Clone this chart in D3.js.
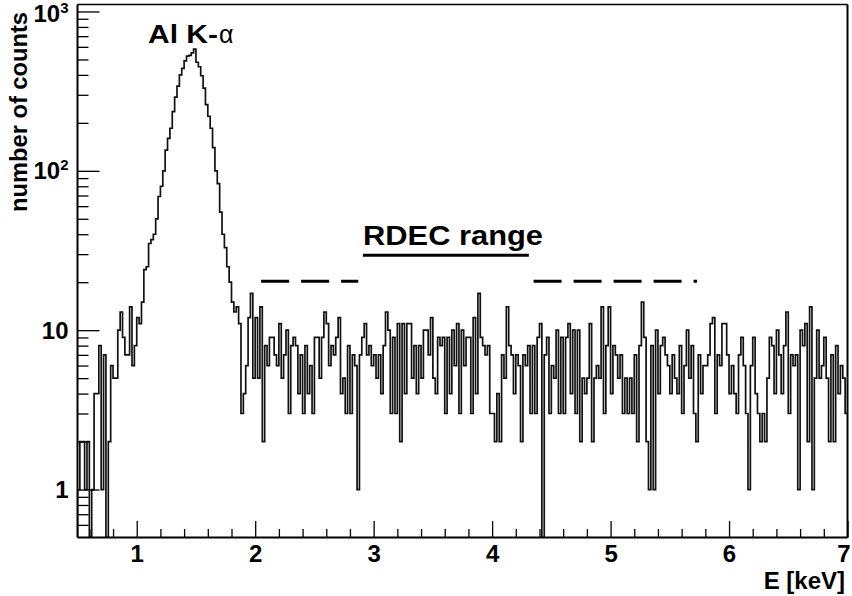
<!DOCTYPE html>
<html>
<head>
<meta charset="utf-8">
<script src="https://cdn.jsdelivr.net/npm/d3@7"></script>
<style>
  body { margin: 0; background: #fff; }
  svg { display: block; }
  text { font-family: 'Liberation Sans', Arial, Helvetica, sans-serif; font-weight: bold; fill: #000; }
</style>
</head>
<body>
<svg id="chart"></svg>
<script>
// spectrum: bins of 0.02 keV starting at 0.5 keV
const binStart = 0.5
const binWidth = 0.02
const counts = [
  1, 2, 2, 1, 2, 0, 1, 4, 4, 8, 1, 7, 0, 2, 6, 5, 5, 10, 13, 9, 7, 7, 14, 6, 8, 12, 11, 15,
  24, 25, 35, 37, 40, 50, 69, 80, 100, 135, 160, 185, 235, 290, 340, 400, 440, 490, 525, 530,
  550, 580, 480, 450, 395, 330, 260, 220, 185, 140, 100, 83, 55, 40, 33, 25,
  20, 15, 13, 14, 11, 3, 4, 6, 12, 17, 5, 12, 5, 14, 2, 8, 6, 9, 9, 7, 6, 11, 5, 7, 10, 3, 8, 9, 8, 4, 7, 3, 8, 4, 6, 3, 9,
  9, 5, 9, 13, 11, 6, 8, 7, 9, 12, 4, 5, 3, 8, 3, 7, 6, 1, 7, 9, 11, 7, 8, 6, 7, 5, 7, 4, 8, 13, 10, 3, 9, 3, 11, 2, 11, 4, 11,
  11, 5, 8, 4, 8, 5, 10, 10, 7, 12, 5, 4, 9, 8, 9, 3, 9, 4, 10, 6, 11, 3, 10, 6, 9, 9, 3, 12, 4, 17, 9, 8, 7, 8, 3, 3, 2, 4,
  2, 7, 5, 14, 8, 7, 4, 7, 6, 2, 7, 6, 8, 3, 8, 3, 9, 11, 0, 7, 9, 3, 6, 5, 10, 3, 9, 3, 9, 11, 4, 10, 3, 10, 2, 5, 4, 5,
  11, 2, 5, 6, 5, 14, 3, 8, 14, 4, 8, 7, 5, 7, 3, 5, 3, 5, 3, 7, 2, 8, 15, 9, 2, 1, 8, 1, 10, 4, 8, 9, 7, 6, 4, 7, 5, 4,
  8, 3, 6, 10, 5, 8, 3, 2, 7, 4, 6, 6, 7, 11, 12, 3, 7, 6, 11, 11, 7, 4, 6, 4, 3, 7, 9, 6, 3, 1,
  6, 9, 4, 3, 2, 3, 2, 5, 9, 8, 4, 10, 7, 4, 8, 13, 3, 7, 6, 7, 1, 10, 8, 11, 2, 14, 1, 5, 10, 5,
  6, 9, 5, 2, 7, 2, 8, 4, 6, 5, 3
]

const xTicks = [1, 2, 3, 4, 5, 6, 7]
const yTicks = [1, 10, 100, 1000]
const yTickBase = ['1', '10', '10', '10']
const yTickExp = ['', '', '2', '3']

// annotation lines (keV, counts)
const sideBands = [[2.05, 2.87], [4.35, 5.73]]
const sideBandLevel = 20.3
const rdecRange = [2.91, 4.31]
const rdecLevel = 29.5

const width = 852
const height = 596
const padL = 77.5, padR = 847.5, padT = 4.5, padB = 537.5

const svg = d3.select('#chart').attr('width', width).attr('height', height)

const x = d3.scaleLinear().domain([0.5, 7]).range([padL, padR])
const y = d3.scaleLog().domain([0.5, 1106]).range([padB, padT])

// histogram as steps
svg.append('clipPath').attr('id', 'frame')
  .append('rect').attr('x', padL).attr('y', padT).attr('width', padR - padL).attr('height', padB - padT)

const yv = v => y(Math.max(v, 0.5))
let path = d3.path()
path.moveTo(x(binStart), padB)
counts.forEach((c, i) => {
  const e0 = binStart + i * binWidth
  path.lineTo(x(e0), yv(c))
  path.lineTo(x(e0 + binWidth), yv(c))
})
svg.append('path')
  .attr('d', path.toString())
  .attr('clip-path', 'url(#frame)')
  .attr('fill', 'none')
  .attr('stroke', '#111')
  .attr('stroke-width', 1.7)

// x axis
const minorX = d3.range(0.6, 7.0001, 0.2).filter(v => Math.abs(v - Math.round(v)) > 0.01)
svg.append('g')
  .attr('transform', `translate(0, ${padB})`)
  .call(d3.axisBottom(x).tickValues(minorX).tickSize(-8.5).tickFormat(''))
  .call(g => g.select('.domain').remove())
svg.append('g')
  .attr('transform', `translate(0, ${padB})`)
  .call(d3.axisBottom(x).tickValues(xTicks).tickSize(-16.5).tickPadding(7).tickFormat(d3.format('d')))
  .call(g => g.select('.domain').remove())
  .selectAll('text')
  .style('font-size', '24px')
  .attr('x', d => d === 7 ? -4 : 0)

// y axis
const minorY = []
;[0.1, 1, 10, 100].forEach(d => {
  for (let k = 2; k <= 9; k++) {
    const v = k * d
    if (v > 0.5 && v < 1106) minorY.push(v)
  }
})
svg.append('g')
  .attr('transform', `translate(${padL}, 0)`)
  .call(d3.axisLeft(y).tickValues(minorY).tickSize(-11).tickFormat(''))
  .call(g => g.select('.domain').remove())
svg.append('g')
  .attr('transform', `translate(${padL}, 0)`)
  .call(d3.axisLeft(y).tickValues(yTicks).tickSize(-22).tickFormat(''))
  .call(g => g.select('.domain').remove())

svg.selectAll('.tick line').attr('stroke', '#000').attr('stroke-width', 1.3)

yTicks.forEach((v, i) => {
  const t = svg.append('text')
    .attr('x', padL - 9)
    .attr('y', y(v) + (v === 1000 ? 2 : 0))
    .attr('dy', '0.36em')
    .attr('text-anchor', 'end')
    .style('font-size', '24px')
  t.append('tspan').text(yTickBase[i])
  if (yTickExp[i]) {
    t.append('tspan').attr('dy', -9).style('font-size', '15px').text(yTickExp[i])
  }
})

// frame
const frameLine = (x1, y1, x2, y2, w) => svg.append('line')
  .attr('x1', x1).attr('y1', y1).attr('x2', x2).attr('y2', y2)
  .attr('stroke', '#000').attr('stroke-width', w)
frameLine(padL, padB, padR, padB, 2)
frameLine(padL, padT, padL, padB, 2)
frameLine(padR, padT, padR, padB, 2)
frameLine(padL, padT, padR, padT, 1.3)

// axis titles
svg.append('text')
  .attr('x', 845).attr('y', 589)
  .attr('text-anchor', 'end')
  .style('font-size', '24px')
  .text('E [keV]')

svg.append('text')
  .attr('transform', 'translate(27, 12) rotate(-90)')
  .attr('text-anchor', 'end')
  .style('font-size', '23px')
  .attr('textLength', 200)
  .attr('lengthAdjust', 'spacingAndGlyphs')
  .text('number of counts')

// annotations
sideBands.forEach(r => {
  svg.append('line')
    .attr('x1', x(r[0])).attr('x2', x(r[1]))
    .attr('y1', y(sideBandLevel)).attr('y2', y(sideBandLevel))
    .attr('stroke', '#000').attr('stroke-width', 3)
    .attr('stroke-dasharray', '28,12')
})
svg.append('line')
  .attr('x1', x(rdecRange[0])).attr('x2', x(rdecRange[1]))
  .attr('y1', y(rdecLevel)).attr('y2', y(rdecLevel))
  .attr('stroke', '#000').attr('stroke-width', 3)

svg.append('text')
  .attr('x', 363).attr('y', 245)
  .style('font-size', '27.5px')
  .attr('textLength', 180)
  .attr('lengthAdjust', 'spacingAndGlyphs')
  .text('RDEC range')

const al = svg.append('text')
  .attr('x', 148).attr('y', 43)
  .style('font-size', '25px')
al.append('tspan').attr('textLength', 70).attr('lengthAdjust', 'spacingAndGlyphs').text('Al K-')
al.append('tspan').style('font-weight', 'normal').attr('dx', 1).text('α')
</script>
</body>
</html>
